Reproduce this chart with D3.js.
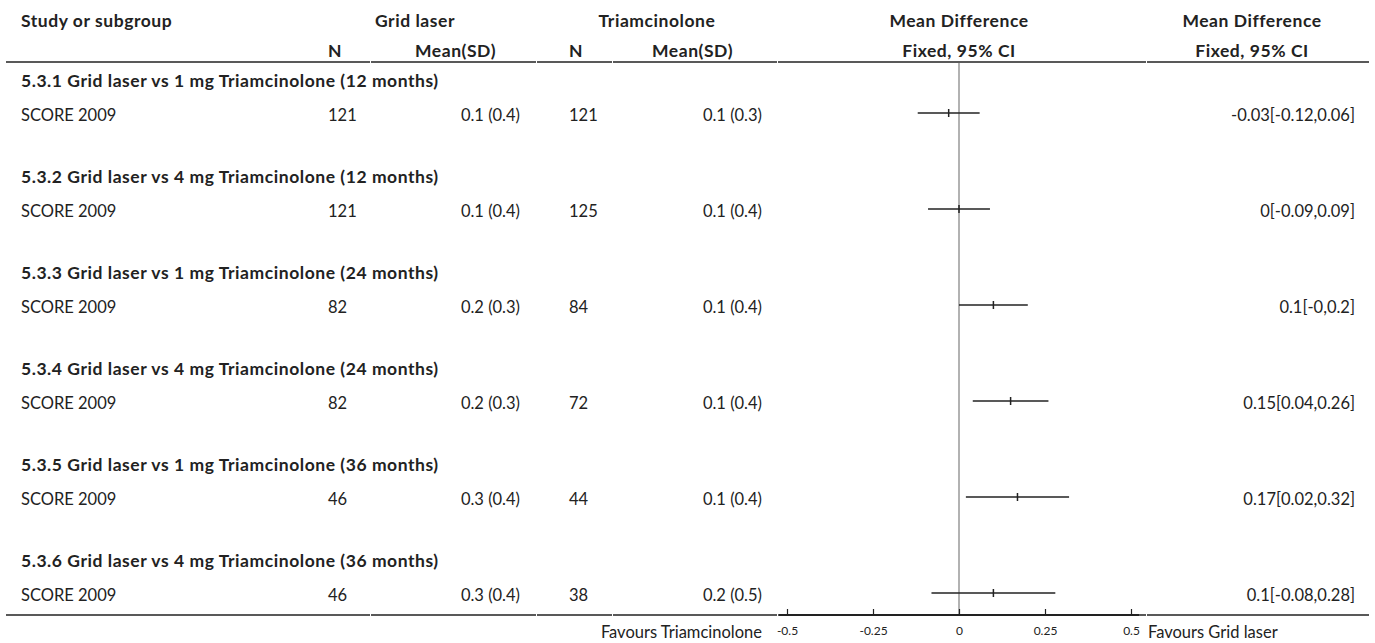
<!DOCTYPE html>
<html>
<head>
<meta charset="utf-8">
<script src="https://cdn.jsdelivr.net/npm/d3@7"></script>
<style>
  body { margin: 0; background: #fff; }
  text { font-family: Lato, "Noto Sans", sans-serif; fill: #222; }
  .bold { font-weight: bold; letter-spacing: 0.55px; }
</style>
</head>
<body>
<div id="chart"></div>
<script>
var width = 1375,
  height = 643;

// DATA
const groups = [
  '5.3.1 Grid laser vs 1 mg Triamcinolone (12 months)',
  '5.3.2 Grid laser vs 4 mg Triamcinolone (12 months)',
  '5.3.3 Grid laser vs 1 mg Triamcinolone (24 months)',
  '5.3.4 Grid laser vs 4 mg Triamcinolone (24 months)',
  '5.3.5 Grid laser vs 1 mg Triamcinolone (36 months)',
  '5.3.6 Grid laser vs 4 mg Triamcinolone (36 months)'
];
const studies = ['SCORE 2009', 'SCORE 2009', 'SCORE 2009', 'SCORE 2009', 'SCORE 2009', 'SCORE 2009'];
const gridN = [121, 121, 82, 82, 46, 46];
const gridMean = [0.1, 0.1, 0.2, 0.2, 0.3, 0.3];
const gridSD = [0.4, 0.4, 0.3, 0.3, 0.4, 0.4];
const triN = [121, 125, 84, 72, 44, 38];
const triMean = [0.1, 0.1, 0.1, 0.1, 0.1, 0.2];
const triSD = [0.3, 0.4, 0.4, 0.4, 0.4, 0.5];
const md = [-0.03, 0, 0.1, 0.15, 0.17, 0.1];
const ciLow = [-0.12, -0.09, -0, 0.04, 0.02, -0.08];
const ciHigh = [0.06, 0.09, 0.2, 0.26, 0.32, 0.28];
const ciLabels = ['-0.03[-0.12,0.06]', '0[-0.09,0.09]', '0.1[-0,0.2]', '0.15[0.04,0.26]', '0.17[0.02,0.32]', '0.1[-0.08,0.28]'];
const axisTicks = [-0.5, -0.25, 0, 0.25, 0.5];

const svg = d3.select('#chart')
  .append('svg')
  .attr('width', width)
  .attr('height', height);

// scales
const x = d3.scaleLinear().domain([-0.5, 0.5]).range([787, 1131]);
const y = d3.scaleLinear().domain([0, groups.length - 1]).range([113, 593]);

const leftX = 21;
const fs = 16.5;   // regular text
const fsb = 17.5;  // bold text

function addText(tx, ty, txt, anchor, cls) {
  return svg.append('text')
    .attr('x', tx)
    .attr('y', ty)
    .attr('text-anchor', anchor)
    .attr('class', cls || null)
    .style('font-size', (cls == 'bold' ? fsb : fs) + 'px')
    .text(txt);
}

// header
addText(leftX, 27, 'Study or subgroup', 'start', 'bold');
addText(415, 27, 'Grid laser', 'middle', 'bold');
addText(657, 27, 'Triamcinolone', 'middle', 'bold');
addText(x(0), 27, 'Mean Difference', 'middle', 'bold');
addText(1252, 27, 'Mean Difference', 'middle', 'bold');

addText(328, 57, 'N', 'start', 'bold');
addText(496, 57, 'Mean(SD)', 'end', 'bold');
addText(569, 57, 'N', 'start', 'bold');
addText(733, 57, 'Mean(SD)', 'end', 'bold');
addText(x(0), 57, 'Fixed, 95% CI', 'middle', 'bold');
addText(1252, 57, 'Fixed, 95% CI', 'middle', 'bold');

// header / footer rules, broken at column boundaries
const cols = [6, 370, 536, 612, 777, 1146, 1369];
[62, 615].forEach(function(ly) {
  for (let i = 0; i < cols.length - 1; i++) {
    svg.append('line')
      .attr('x1', cols[i] + (i ? 1 : 0))
      .attr('x2', cols[i + 1])
      .attr('y1', ly)
      .attr('y2', ly)
      .attr('stroke', '#222')
      .attr('stroke-width', 1.6);
  }
});

// zero line
svg.append('line')
  .attr('x1', x(0))
  .attr('x2', x(0))
  .attr('y1', 63)
  .attr('y2', 615)
  .attr('stroke', '#999')
  .attr('stroke-width', 1.5);

// rows
groups.forEach(function(g, i) {
  let yy = y(i);
  addText(leftX, yy - 26, g, 'start', 'bold');
  addText(leftX, yy + 8, studies[i], 'start');
  addText(328, yy + 8, gridN[i], 'start');
  addText(520, yy + 8, gridMean[i].toFixed(1) + ' (' + gridSD[i].toFixed(1) + ')', 'end');
  addText(569, yy + 8, triN[i], 'start');
  addText(762, yy + 8, triMean[i].toFixed(1) + ' (' + triSD[i].toFixed(1) + ')', 'end');
  addText(1355, yy + 8, ciLabels[i], 'end');
});

// confidence intervals
const ci = svg.append('g')
  .attr('stroke', '#222')
  .attr('stroke-width', 1.5);

ci.selectAll('line.ci')
  .data(md)
  .join('line')
  .attr('class', 'ci')
  .attr('x1', (d, i) => x(ciLow[i]))
  .attr('x2', (d, i) => x(ciHigh[i]))
  .attr('y1', (d, i) => y(i))
  .attr('y2', (d, i) => y(i));

ci.selectAll('line.pt')
  .data(md)
  .join('line')
  .attr('class', 'pt')
  .attr('x1', d => x(d))
  .attr('x2', d => x(d))
  .attr('y1', (d, i) => y(i) - 4)
  .attr('y2', (d, i) => y(i) + 4);

// axis
const axis = d3.axisBottom(x)
  .tickValues(axisTicks)
  .tickFormat(d => String(d))
  .tickSize(-6)
  .tickSizeOuter(0)
  .tickPadding(11);

const ax = svg.append('g')
  .attr('transform', 'translate(0,615)')
  .call(axis);

ax.select('.domain')
  .attr('stroke', '#222')
  .attr('stroke-width', 2.2)
  .attr('d', 'M' + (x(-0.5) - 8) + ',0H' + (x(0.5) + 8));
ax.selectAll('.tick line').attr('stroke', '#222').attr('stroke-width', 1.2);
ax.selectAll('.tick text')
  .style('font-family', 'Lato, sans-serif')
  .style('font-size', '12px')
  .attr('fill', '#222');

addText(762, 638, 'Favours Triamcinolone', 'end');
addText(1148, 638, 'Favours Grid laser', 'start');
</script>
</body>
</html>
